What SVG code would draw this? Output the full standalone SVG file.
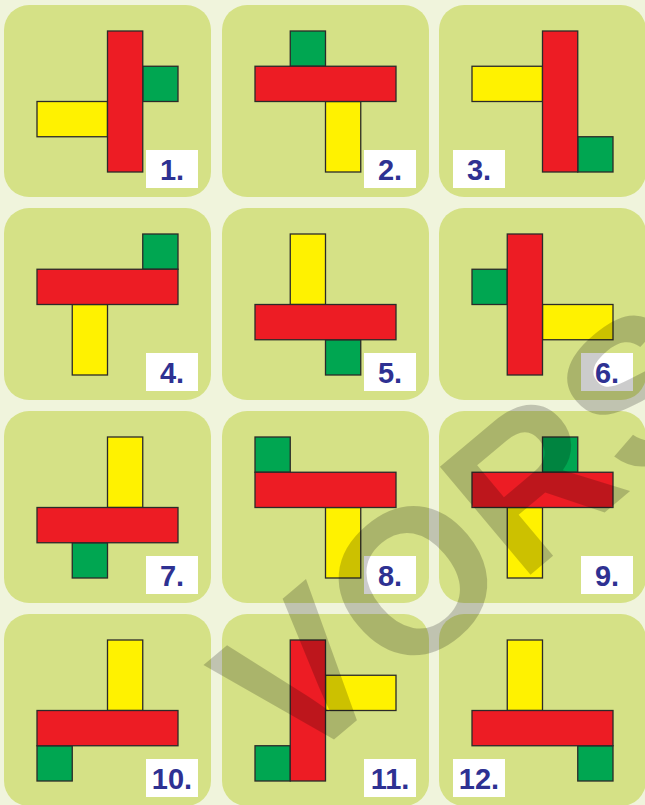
<svg xmlns="http://www.w3.org/2000/svg" width="645" height="805" viewBox="0 0 645 805">
<style>
.bg{fill:#f0f4dc}
.tile{fill:#d5e186}
.r{fill:#ed1c24;stroke:#2b2a29;stroke-width:1.3}
.y{fill:#fff200;stroke:#2b2a29;stroke-width:1.3}
.g{fill:#00a651;stroke:#2b2a29;stroke-width:1.3}
.lb{fill:#ffffff}
.lt{fill:#2e3192;font-family:"Liberation Sans",Arial,sans-serif;font-weight:bold;font-size:29px;text-anchor:middle}
.wm{fill:#000000;fill-opacity:0.2;font-family:"Liberation Sans",Arial,sans-serif;font-weight:bold;font-size:205px}
</style>
<rect class="bg" x="0" y="0" width="645" height="805"/>
<g id="connectors"></g>

<g id="tile1" transform="translate(4,5)">
<rect class="tile" x="0" y="0" width="207" height="192" rx="25"/>
<rect class="y" x="33" y="96.5" width="70.5" height="35.25"/>
<rect class="g" x="138.75" y="61.25" width="35.25" height="35.25"/>
<rect class="r" x="103.5" y="26" width="35.25" height="141"/>
<rect class="lb" x="142" y="145" width="52" height="38"/>
<text class="lt" x="168" y="175">1.</text>
</g>

<g id="tile2" transform="translate(222,5)">
<rect class="tile" x="0" y="0" width="207" height="192" rx="25"/>
<rect class="g" x="68.25" y="26" width="35.25" height="35.25"/>
<rect class="y" x="103.5" y="96.5" width="35.25" height="70.5"/>
<rect class="r" x="33" y="61.25" width="141" height="35.25"/>
<rect class="lb" x="142" y="145" width="52" height="38"/>
<text class="lt" x="168" y="175">2.</text>
</g>

<g id="tile3" transform="translate(439,5)">
<rect class="tile" x="0" y="0" width="207" height="192" rx="25"/>
<rect class="y" x="33" y="61.25" width="70.5" height="35.25"/>
<rect class="g" x="138.75" y="131.75" width="35.25" height="35.25"/>
<rect class="r" x="103.5" y="26" width="35.25" height="141"/>
<rect class="lb" x="14" y="145" width="52" height="38"/>
<text class="lt" x="40" y="175">3.</text>
</g>

<g id="tile4" transform="translate(4,208)">
<rect class="tile" x="0" y="0" width="207" height="192" rx="25"/>
<rect class="g" x="138.75" y="26" width="35.25" height="35.25"/>
<rect class="y" x="68.25" y="96.5" width="35.25" height="70.5"/>
<rect class="r" x="33" y="61.25" width="141" height="35.25"/>
<rect class="lb" x="142" y="145" width="52" height="38"/>
<text class="lt" x="168" y="175">4.</text>
</g>

<g id="tile5" transform="translate(222,208)">
<rect class="tile" x="0" y="0" width="207" height="192" rx="25"/>
<rect class="y" x="68.25" y="26" width="35.25" height="70.5"/>
<rect class="g" x="103.5" y="131.75" width="35.25" height="35.25"/>
<rect class="r" x="33" y="96.5" width="141" height="35.25"/>
<rect class="lb" x="142" y="145" width="52" height="38"/>
<text class="lt" x="168" y="175">5.</text>
</g>

<g id="tile6" transform="translate(439,208)">
<rect class="tile" x="0" y="0" width="207" height="192" rx="25"/>
<rect class="g" x="33" y="61.25" width="35.25" height="35.25"/>
<rect class="y" x="103.5" y="96.5" width="70.5" height="35.25"/>
<rect class="r" x="68.25" y="26" width="35.25" height="141"/>
<rect class="lb" x="142" y="145" width="52" height="38"/>
<text class="lt" x="168" y="175">6.</text>
</g>

<g id="tile7" transform="translate(4,411)">
<rect class="tile" x="0" y="0" width="207" height="192" rx="25"/>
<rect class="y" x="103.5" y="26" width="35.25" height="70.5"/>
<rect class="g" x="68.25" y="131.75" width="35.25" height="35.25"/>
<rect class="r" x="33" y="96.5" width="141" height="35.25"/>
<rect class="lb" x="142" y="145" width="52" height="38"/>
<text class="lt" x="168" y="175">7.</text>
</g>

<g id="tile8" transform="translate(222,411)">
<rect class="tile" x="0" y="0" width="207" height="192" rx="25"/>
<rect class="g" x="33" y="26" width="35.25" height="35.25"/>
<rect class="y" x="103.5" y="96.5" width="35.25" height="70.5"/>
<rect class="r" x="33" y="61.25" width="141" height="35.25"/>
<rect class="lb" x="142" y="145" width="52" height="38"/>
<text class="lt" x="168" y="175">8.</text>
</g>

<g id="tile9" transform="translate(439,411)">
<rect class="tile" x="0" y="0" width="207" height="192" rx="25"/>
<rect class="g" x="103.5" y="26" width="35.25" height="35.25"/>
<rect class="y" x="68.25" y="96.5" width="35.25" height="70.5"/>
<rect class="r" x="33" y="61.25" width="141" height="35.25"/>
<rect class="lb" x="142" y="145" width="52" height="38"/>
<text class="lt" x="168" y="175">9.</text>
</g>

<g id="tile10" transform="translate(4,614)">
<rect class="tile" x="0" y="0" width="207" height="192" rx="25"/>
<rect class="y" x="103.5" y="26" width="35.25" height="70.5"/>
<rect class="g" x="33" y="131.75" width="35.25" height="35.25"/>
<rect class="r" x="33" y="96.5" width="141" height="35.25"/>
<rect class="lb" x="142" y="145" width="52" height="38"/>
<text class="lt" x="168" y="175">10.</text>
</g>

<g id="tile11" transform="translate(222,614)">
<rect class="tile" x="0" y="0" width="207" height="192" rx="25"/>
<rect class="y" x="103.5" y="61.25" width="70.5" height="35.25"/>
<rect class="g" x="33" y="131.75" width="35.25" height="35.25"/>
<rect class="r" x="68.25" y="26" width="35.25" height="141"/>
<rect class="lb" x="142" y="145" width="52" height="38"/>
<text class="lt" x="168" y="175">11.</text>
</g>

<g id="tile12" transform="translate(439,614)">
<rect class="tile" x="0" y="0" width="207" height="192" rx="25"/>
<rect class="y" x="68.25" y="26" width="35.25" height="70.5"/>
<rect class="g" x="138.75" y="131.75" width="35.25" height="35.25"/>
<rect class="r" x="33" y="96.5" width="141" height="35.25"/>
<rect class="lb" x="14" y="145" width="52" height="38"/>
<text class="lt" x="40" y="175">12.</text>
</g>

<g id="watermark">
<text class="wm" x="293" y="774" transform="rotate(-40 293 774)">VORS</text>
</g>
</svg>
